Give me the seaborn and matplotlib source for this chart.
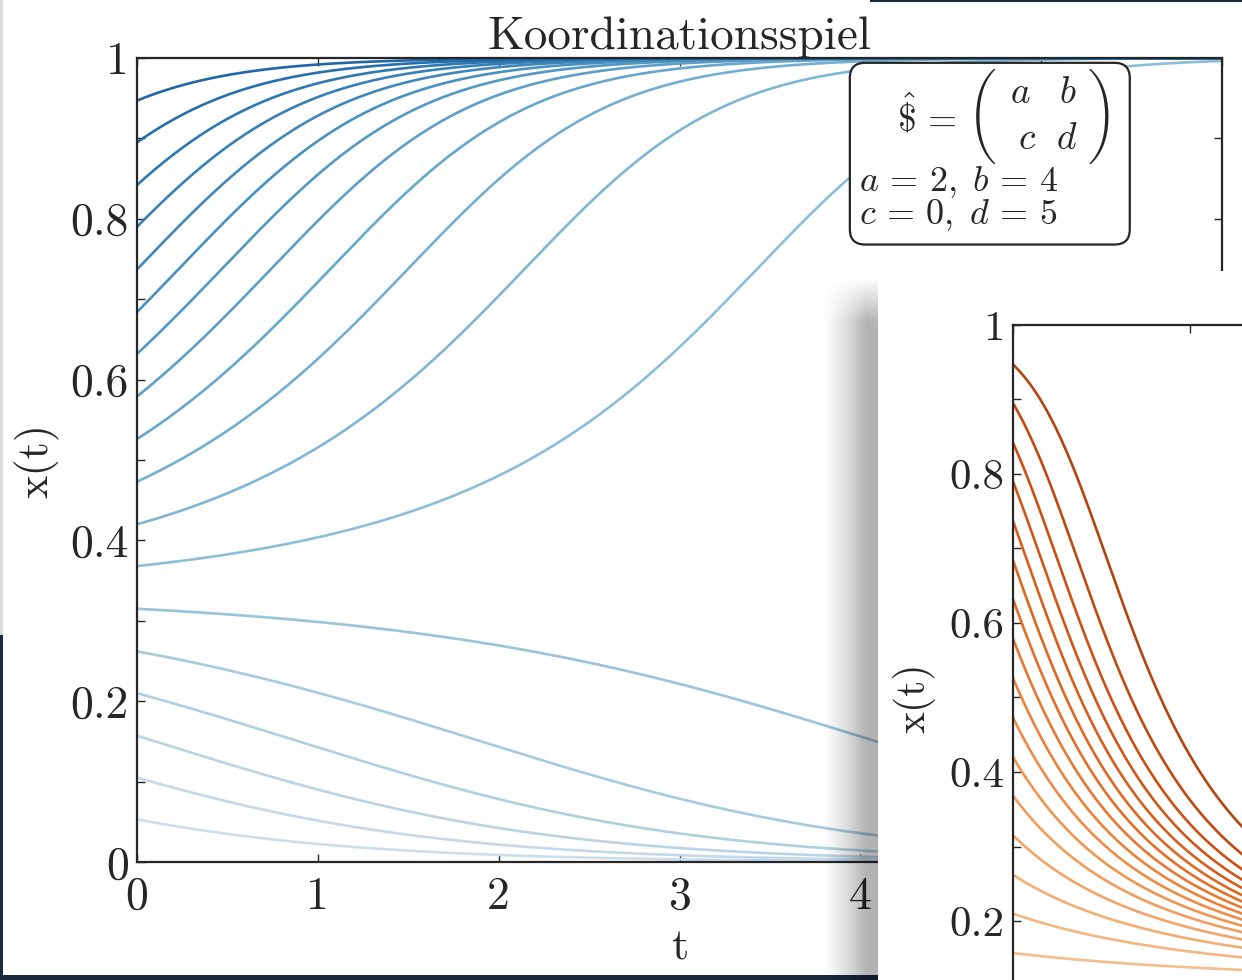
"""Koordinationsspiel: replicator dynamics, screenshot with an overlapping second panel."""
import numpy as np
import pandas as pd
import matplotlib
matplotlib.use('Agg')
import matplotlib.pyplot as plt
from matplotlib.patches import Rectangle, FancyBboxPatch
from matplotlib.ticker import MultipleLocator, FuncFormatter
import seaborn as sns

# starting shares x(0) (same set in both panels)
X0 = [0.053, 0.105, 0.157, 0.21, 0.262, 0.315, 0.368, 0.42, 0.473, 0.526,
      0.579, 0.632, 0.684, 0.737, 0.79, 0.842, 0.895, 0.947]
# payoff matrix printed in the box
PAY_A, PAY_B, PAY_C, PAY_D = 2, 4, 0, 5
# cropped orange panel: payoff advantage of strategy 1 at x=1 and at x=0 (estimated from slopes)
ORANGE_GAIN_X1 = -4.85
ORANGE_GAIN_X0 = 0.65
T_MAX = 6
TITLE = "Koordinationsspiel"

W, H = 1242, 980
NAVY = "#1b2940"
INK = "#262626"


def trajectory(x0, g1, g0, t):
    # x' = x(1-x)(g1*x + g0*(1-x)), RK4 steps
    def f(x):
        return x * (1 - x) * (g1 * x + g0 * (1 - x))
    xs = [x0]
    x = x0
    for dt in np.diff(t):
        k1 = f(x)
        k2 = f(x + dt / 2 * k1)
        k3 = f(x + dt / 2 * k2)
        k4 = f(x + dt * k3)
        x = x + dt / 6 * (k1 + 2 * k2 + 2 * k3 + k4)
        xs.append(x)
    return np.array(xs)


def build_frame(g1, g0):
    t = np.linspace(0, T_MAX, 601)
    rows = []
    for x0 in X0:
        rows.append(pd.DataFrame({"t": t, "x": trajectory(x0, g1, g0, t), "x0": x0}))
    return pd.concat(rows, ignore_index=True)


def px_axes(fig, x0, y0, x1, y1, z):
    ax = fig.add_axes([x0 / W, 1 - y1 / H, (x1 - x0) / W, (y1 - y0) / H])
    ax.set_zorder(z)
    return ax


def style_axes(ax, fs, ymin_label=0.0):
    ax.set_xlim(0, T_MAX)
    ax.set_ylim(0, 1)
    ax.xaxis.set_major_locator(MultipleLocator(1))
    ax.yaxis.set_major_locator(MultipleLocator(0.2))
    ax.yaxis.set_minor_locator(MultipleLocator(0.1))
    ax.xaxis.set_major_formatter(FuncFormatter(lambda v, p: f"{v:g}"))
    ax.yaxis.set_major_formatter(
        FuncFormatter(lambda v, p: f"{v:g}" if v >= ymin_label - 1e-9 else ""))
    ax.tick_params(which="both", direction="in", top=True, right=True,
                   length=6, width=1.0, color=INK, labelsize=fs, labelcolor=INK)
    ax.tick_params(axis="y", pad=6)
    ax.tick_params(axis="x", pad=10)
    for s in ax.spines.values():
        s.set_color(INK)
        s.set_linewidth(1.6)
    ax.set_facecolor("white")


sns.set_style("ticks")
plt.rcParams["font.family"] = ["cmr10", "DejaVu Serif"]
plt.rcParams["mathtext.fontset"] = "cm"
plt.rcParams["axes.formatter.use_mathtext"] = True
plt.rcParams["axes.unicode_minus"] = False

fig = plt.figure(figsize=(W / 100, H / 100), dpi=100, facecolor=NAVY)

# screenshot background
bg = fig.add_axes([0, 0, 1, 1])
bg.set_zorder(0)
bg.set_xlim(0, W)
bg.set_ylim(H, 0)
bg.axis("off")
bg.add_patch(Rectangle((3, 0), W - 3, 975, color="white", lw=0))
bg.add_patch(Rectangle((0, 0), 3, 635, color="#dcdcdc", lw=0))
bg.add_patch(Rectangle((870, 0), W - 870, 2, color=NAVY, lw=0))

# main (blue) panel
ax = px_axes(fig, 137, 58, 1222, 862, 1)
blue = build_frame(PAY_A - PAY_C, PAY_B - PAY_D)
pal_blue = {x0: sns.desaturate(plt.cm.Blues(0.2 + 0.62 * x0), 0.9) for x0 in X0}
sns.lineplot(data=blue, x="t", y="x", hue="x0", palette=pal_blue, units="x0",
             estimator=None, sort=False, legend=False, lw=1.9, ax=ax)
style_axes(ax, 33)
ax.set_title(TITLE, fontsize=34, pad=6, color=INK)
ax.set_xlabel("t", fontsize=32, labelpad=8, color=INK)
ax.set_ylabel("x(t)", fontsize=32, labelpad=8, color=INK)

# payoff box: rounded frame, large cmex parentheses, entries placed one by one
box = FancyBboxPatch((0.657, 0.768), 0.258, 0.226, transform=ax.transAxes,
                     boxstyle="round,pad=0,rounding_size=0.014", mutation_aspect=1.35,
                     fc="white", ec=INK, lw=1.6, zorder=5)
ax.add_patch(box)
ax.text(0.756, 0.928, r"$\hat{\$}\,=$", transform=ax.transAxes, ha="right",
        va="center", fontsize=27, color=INK, zorder=6)
ax.text(0.779, 0.927, "\xb5", family="cmex10", transform=ax.transAxes, ha="center",
        va="center", fontsize=28, color=INK, zorder=6)
ax.text(0.889, 0.927, "\xb6", family="cmex10", transform=ax.transAxes, ha="center",
        va="center", fontsize=28, color=INK, zorder=6)
for sym, fx, fy in [("a", 0.814, 0.956), ("b", 0.858, 0.956),
                    ("c", 0.820, 0.899), ("d", 0.857, 0.899)]:
    ax.text(fx, fy, f"${sym}$", transform=ax.transAxes, ha="center", va="center",
            fontsize=27, color=INK, zorder=6)
ax.text(0.665, 0.846, r"$a \,=\, 2,\; b \,=\, 4$", transform=ax.transAxes, ha="left",
        va="center", fontsize=26, color=INK, zorder=6)
ax.text(0.665, 0.805, r"$c \,=\, 0,\; d \,=\, 5$", transform=ax.transAxes, ha="left",
        va="center", fontsize=26, color=INK, zorder=6)

# drop shadow of the overlapping window
sh = px_axes(fig, 815, 278, 878, 980, 2)
sh.axis("off")
gx = np.clip(np.linspace(-0.1, 1.25, 64), 0, 1) ** 1.4
gy = np.clip(np.linspace(0, 702 / 45, 702), 0, 1)
img = np.zeros((702, 64, 4))
img[..., 3] = 0.3 * gy[:, None] * gx[None, :]
sh.imshow(img, aspect="auto", extent=(0, 1, 1, 0), interpolation="bilinear")
sh.set_xlim(0, 1)
sh.set_ylim(1, 0)

# overlapping window
p2 = px_axes(fig, 878, 271, 1242, 980, 3)
p2.set_facecolor("white")
p2.set_xticks([])
p2.set_yticks([])
for s in p2.spines.values():
    s.set_visible(False)

# orange panel (cropped by the screen edge)
ax2 = px_axes(fig, 1013, 325, 1013 + 177 * T_MAX, 1070, 4)
orange = build_frame(ORANGE_GAIN_X1, ORANGE_GAIN_X0)
pal_orange = {x0: sns.desaturate(plt.cm.Oranges(0.22 + 0.62 * x0), 0.85) for x0 in X0}
sns.lineplot(data=orange, x="t", y="x", hue="x0", palette=pal_orange, units="x0",
             estimator=None, sort=False, legend=False, lw=1.9, ax=ax2)
style_axes(ax2, 31, ymin_label=0.2)
ax2.tick_params(axis="x", labelbottom=False)
ax2.set_xlabel("")
ax2.set_ylabel("x(t)", fontsize=30, labelpad=10, color=INK)

fig.savefig("out.png", dpi=100, facecolor=NAVY)
